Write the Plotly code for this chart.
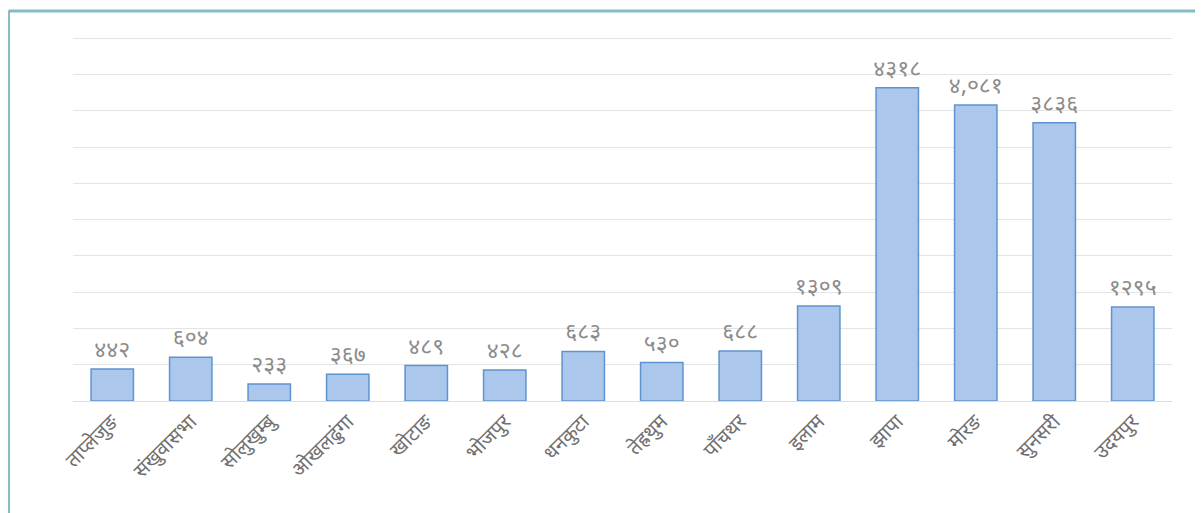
import plotly.graph_objects as go

districts = ["ताप्लेजुङ", "संखुवासभा", "सोलुखुम्बु", "ओखलढुंगा", "खोटाङ", "भोजपुर", "धनकुटा",
             "तेह्रथुम", "पाँचथर", "इलाम", "झापा", "मोरङ", "सुनसरी", "उदयपुर"]
values = [442, 604, 233, 367, 489, 428, 683, 530, 688, 1309, 4318, 4081, 3836, 1295]
value_labels = ["४४२", "६०४", "२३३", "३६७", "४८९", "४२८", "६८३", "५३०", "६८८", "१३०९",
                "४३१८", "४,०८१", "३८३६", "१२९५"]

# page has an 8px body margin; figure is placed at (8, 8)
W, H = 1195, 505
L, R, T, B = 65, 31, 23, 112
pw, ph = W - L - R, H - T - B

font_family = "Noto Sans Devanagari, Noto Sans, Lohit Devanagari, FreeSans, sans-serif"

fig = go.Figure(go.Bar(
    x=districts, y=values,
    text=value_labels, textposition="outside", cliponaxis=False, constraintext="none",
    textfont=dict(size=23, color="#8c8c8c", family=font_family),
    marker=dict(color="#abc8ec", line=dict(color="#5f93d0", width=1.5)),
    width=0.54,
))

fig.update_layout(
    width=W, height=H,
    margin=dict(l=L, r=R, t=T, b=B),
    paper_bgcolor="white", plot_bgcolor="white",
    showlegend=False,
    font=dict(family=font_family),
    xaxis=dict(tickangle=-45, tickfont=dict(size=20, color="#707070", family=font_family),
               showline=True, linecolor="#dddddd", linewidth=1, ticks=""),
    yaxis=dict(range=[0, 5100], dtick=500, showticklabels=False, showgrid=True,
               gridcolor="#e4e4e4", gridwidth=1, zeroline=False),
    shapes=[
        dict(type="line", xref="paper", yref="paper",
             x0=(0.5 - L) / pw, x1=(0.5 - L) / pw, y0=1 + (T - 3) / ph, y1=-(B + 5) / ph,
             line=dict(color="#86bcc6", width=3)),
        dict(type="line", xref="paper", yref="paper",
             x0=(0.5 - L) / pw, x1=(W + 5 - L) / pw, y0=1 + (T - 3) / ph, y1=1 + (T - 3) / ph,
             line=dict(color="#86bcc6", width=3)),
    ],
)

fig.write_html("out.html")
